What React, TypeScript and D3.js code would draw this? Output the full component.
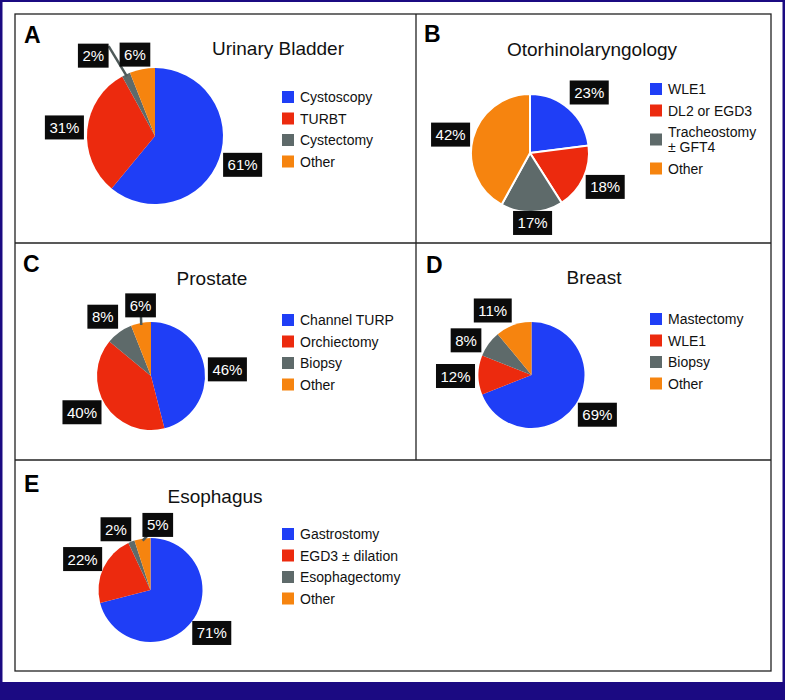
import { useEffect, useRef } from "react"
import * as d3 from "d3"

// slice order is the same in every panel: blue, red, gray, orange
const sliceColors = ["#1f3ef6", "#ec2a0e", "#5e6a6a", "#f6840f"]
const navy = "#1b0a82"
const font = "'Liberation Sans', Arial, Helvetica, sans-serif"

const bladderCategories = ["Cystoscopy", "TURBT", "Cystectomy", "Other"]
const bladderValues = [61, 31, 2, 6]

const entCategories = ["WLE1", "DL2 or EGD3", "Tracheostomy\n± GFT4", "Other"]
const entValues = [23, 18, 17, 42]

const prostateCategories = ["Channel TURP", "Orchiectomy", "Biopsy", "Other"]
const prostateValues = [46, 40, 8, 6]

const breastCategories = ["Mastectomy", "WLE1", "Biopsy", "Other"]
const breastValues = [69, 12, 8, 11]

const esophagusCategories = ["Gastrostomy", "EGD3 ± dilation", "Esophagectomy", "Other"]
const esophagusValues = [71, 22, 2, 5]

interface Panel {
  letter: string
  letterX: number
  letterY: number
  title: string
  titleX: number
  titleY: number
  categories: string[]
  values: number[]
  cx: number
  cy: number
  r: number
  legendX: number
  legendY: number
  // small tweaks to the label boxes, relative to the outside-end position
  nudges: [number, number][]
  // leader line target inside the label box (fraction of width / height)
  leaders: ([number, number] | null)[]
  separators?: boolean
}

const panels: Panel[] = [
  {
    letter: "A", letterX: 24, letterY: 43,
    title: "Urinary Bladder", titleX: 278, titleY: 55,
    categories: bladderCategories, values: bladderValues,
    cx: 155, cy: 136, r: 68,
    legendX: 282, legendY: 97,
    nudges: [[2, -2], [0, 0], [-23, 2], [-3, 8]],
    leaders: [null, null, [1, 0.1], null],
  },
  {
    letter: "B", letterX: 424, letterY: 42,
    title: "Otorhinolaryngology", titleX: 592, titleY: 56,
    categories: entCategories, values: entValues,
    cx: 530, cy: 153, r: 59,
    legendX: 650, legendY: 89,
    nudges: [[5, 1], [1, -1], [0, -12], [0, 2]],
    leaders: [null, null, null, null],
    separators: true,
  },
  {
    letter: "C", letterX: 23, letterY: 272,
    title: "Prostate", titleX: 212, titleY: 285,
    categories: prostateCategories, values: prostateValues,
    cx: 151, cy: 376, r: 54,
    legendX: 282, legendY: 320,
    nudges: [[0, 3], [-4, -5], [-3, 3], [4, 5]],
    leaders: [null, null, null, [0.5, 0.5]],
  },
  {
    letter: "D", letterX: 426, letterY: 273,
    title: "Breast", titleX: 594, titleY: 284,
    categories: breastCategories, values: breastValues,
    cx: 531.5, cy: 375, r: 53,
    legendX: 650, legendY: 319,
    nudges: [[3, -3], [0, 1], [-4, 10], [-13, 7]],
    leaders: [null, null, null, null],
  },
  {
    letter: "E", letterX: 24, letterY: 492,
    title: "Esophagus", titleX: 215, titleY: 503,
    categories: esophagusCategories, values: esophagusValues,
    cx: 150.5, cy: 590, r: 52,
    legendX: 282, legendY: 534,
    nudges: [[2, -3], [0, 1], [-7, 9], [19, 9]],
    leaders: [null, null, null, [0.5, 0.5]],
  },
]

const W = 785
const H = 700

export default function App() {
  const svgRef = useRef<SVGSVGElement>(null)

  useEffect(() => {
    const svg = d3.select(svgRef.current)
    svg.selectAll("*").remove()

    // navy page frame with the band at the bottom
    svg.append("rect").attr("width", W).attr("height", H).attr("fill", navy)
    svg.append("rect").attr("x", 2.5).attr("y", 2).attr("width", 780).attr("height", 680).attr("fill", "#fff")

    // panel grid
    const grid = svg.append("g").attr("stroke", "#222").attr("stroke-width", 1.3).attr("fill", "none")
    grid.append("rect").attr("x", 15).attr("y", 14).attr("width", 756).attr("height", 657)
    grid.append("line").attr("x1", 15).attr("x2", 771).attr("y1", 243).attr("y2", 243)
    grid.append("line").attr("x1", 15).attr("x2", 771).attr("y1", 460).attr("y2", 460)
    grid.append("line").attr("x1", 416).attr("x2", 416).attr("y1", 14).attr("y2", 460)

    const pie = d3.pie<number>().sort(null).value((d) => d)

    panels.forEach((p) => {
      const g = svg.append("g").attr("font-family", font)

      g.append("text")
        .attr("x", p.letterX)
        .attr("y", p.letterY)
        .attr("font-size", 23)
        .attr("font-weight", "bold")
        .attr("fill", "#000")
        .text(p.letter)

      g.append("text")
        .attr("x", p.titleX)
        .attr("y", p.titleY)
        .attr("text-anchor", "middle")
        .attr("font-size", 19)
        .attr("fill", "#111")
        .text(p.title)

      // slices
      const arcs = pie(p.values)
      const arc = d3.arc<d3.PieArcDatum<number>>().innerRadius(0).outerRadius(p.r)
      const pieG = g.append("g").attr("transform", `translate(${p.cx},${p.cy})`)
      pieG
        .selectAll("path")
        .data(arcs)
        .join("path")
        .attr("d", arc)
        .attr("fill", (_, i) => sliceColors[i])
        .attr("stroke", p.separators ? "#fff" : "none")
        .attr("stroke-width", p.separators ? 2 : 0)

      // data labels: black boxes just outside each slice
      const labelR = p.r + 23
      arcs.forEach((a, i) => {
        const mid = (a.startAngle + a.endAngle) / 2
        const x = p.cx + labelR * Math.sin(mid) + p.nudges[i][0]
        const y = p.cy - labelR * Math.cos(mid) + p.nudges[i][1]

        const lg = g.append("g")
        const rect = lg.append("rect").attr("fill", "#0b0b0b")
        const t = lg
          .append("text")
          .attr("x", x)
          .attr("y", y + 5.5)
          .attr("text-anchor", "middle")
          .attr("font-size", 15)
          .attr("fill", "#fff")
          .text(`${p.values[i]}%`)
        const tw = (t.node() as SVGTextElement).getComputedTextLength()
        const bw = tw + 9
        const bh = 24
        rect.attr("x", x - bw / 2).attr("y", y - bh / 2).attr("width", bw).attr("height", bh)

        const lead = p.leaders[i]
        if (lead) {
          const ex = x - bw / 2 + lead[0] * bw
          const ey = y - bh / 2 + lead[1] * bh
          const sx = p.cx + (p.r - 2) * Math.sin(mid)
          const sy = p.cy - (p.r - 2) * Math.cos(mid)
          lg.insert("line", "rect")
            .attr("x1", sx)
            .attr("y1", sy)
            .attr("x2", ex)
            .attr("y2", ey)
            .attr("stroke", "#4f5a5a")
            .attr("stroke-width", 2.5)
        }
      })

      // legend
      let cy = p.legendY
      p.categories.forEach((name, i) => {
        const lines = name.split("\n")
        if (i > 0) {
          const prevLines = p.categories[i - 1].split("\n").length
          cy += (prevLines - 1) * 7.5 + 21.5 + (lines.length - 1) * 7.5
        }
        g.append("rect")
          .attr("x", p.legendX)
          .attr("y", cy - 6)
          .attr("width", 12)
          .attr("height", 12)
          .attr("fill", sliceColors[i])
        lines.forEach((line, j) => {
          g.append("text")
            .attr("x", p.legendX + 18)
            .attr("y", cy + 5 + (j - (lines.length - 1) / 2) * 15.5)
            .attr("font-size", 14)
            .attr("fill", "#111")
            .text(line)
        })
      })
    })
  }, [])

  return (
    <svg
      ref={svgRef}
      width={W}
      height={H}
      style={{ position: "absolute", left: 0, top: 0, display: "block" }}
    />
  )
}
